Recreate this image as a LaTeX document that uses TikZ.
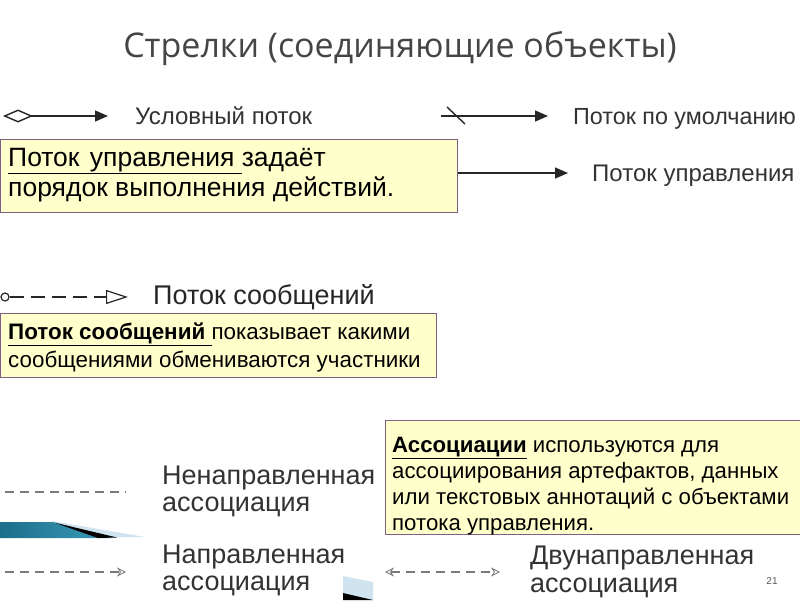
\documentclass[tikz,border=0pt]{standalone}
\usepackage{fontspec}
\setmainfont{Liberation Sans}
\newfontfamily\titlefont{Open Sans}
\usetikzlibrary{arrows.meta}
\definecolor{boxfill}{HTML}{FFFFCC}
\definecolor{boxline}{HTML}{7F6084}
\definecolor{lblgray}{HTML}{333333}
\definecolor{titlegray}{HTML}{454545}
\definecolor{tealA}{HTML}{1C6E8A}
\definecolor{tealB}{HTML}{3A9EBB}
\definecolor{paleblue}{HTML}{CFE4EE}
\definecolor{assocgray}{HTML}{7A7A7A}
\tikzset{
  notebox/.style={draw=boxline, fill=boxfill, line width=0.9pt, anchor=north west, inner sep=0pt},
  notetext/.style={anchor=base west, inner sep=0pt, align=left, text=black},
  lbl/.style={anchor=base west, inner sep=0pt, text=lblgray, font=\fontsize{24}{26}\selectfont},
  lblbig/.style={anchor=base west, inner sep=0pt, text=black!85, font=\fontsize{27}{29}\selectfont},
  lblassoc/.style={anchor=base west, inner sep=0pt, text=lblgray, font=\fontsize{27}{29}\selectfont},
  flowline/.style={line width=1.4pt, black!85},
  assoc/.style={line width=1.2pt, assocgray, dash pattern=on 9pt off 6pt},
}
\begin{document}
\begin{tikzpicture}[x=1pt,y=-1pt]
\useasboundingbox (0,0) rectangle (800,600);
\fill[white] (0,0) rectangle (800,600);

% title
\node[anchor=base, inner sep=0pt, text=titlegray, font=\titlefont\fontsize{34}{36}\selectfont] (title) at (400,57) {Стрелки (соединяющие объекты)};

% decorations
\fill[paleblue] (52,521) -- (145,537) -- (52,538) -- cycle;
\shade[left color=tealA, right color=tealB] (0,522) -- (52,522) -- (112,538) -- (0,538) -- cycle;
\fill[black] (54,522.5) -- (117,537.5) -- (98,538) -- cycle;
\fill[paleblue] (343,576) -- (373,582) -- (373,600) -- (343,600) -- cycle;
\fill[black] (343,593) -- (373,600) -- (343,600) -- cycle;

% row 1: conditional flow
\coordinate (cs) at (3,116);
\coordinate (ce) at (108,116);
\draw[flowline, {Diamond[open,length=30pt,width=13pt]}-{Triangle[length=13pt,width=11pt]}] (cs) -- (ce);
\node[lbl] (lcond) at (135,124) {Условный поток};

% default flow
\coordinate (ds) at (441,116);
\coordinate (de) at (548,116);
\coordinate (sl1) at (447,107);
\coordinate (sl2) at (465,124);
\draw[flowline, -{Triangle[length=13pt,width=11pt]}] (ds) -- (de);
\draw[flowline] (sl1) -- (sl2);
\node[lbl, font=\fontsize{23.3}{26}\selectfont] (ldef) at (573,124) {Поток по умолчанию};

% box 1
\node[notebox, minimum width=457pt, minimum height=73pt] (b1) at (0,139) {};
\node[notetext, font=\fontsize{26.5}{30}\selectfont] (t1) at (8,196)
  {\underline{Поток\hspace{3pt} управления\ }задаёт\\порядок выполнения действий.};

% control flow
\coordinate (fs) at (b1.east |- 0,173);
\coordinate (fe) at (568,173);
\draw[flowline, -{Triangle[length=13pt,width=11pt]}] (fs) -- (fe);
\node[lbl] (lctl) at (592,181) {Поток управления};

% message flow
\node[draw=black!85, line width=1.2pt, circle, minimum size=8pt, inner sep=0pt] (mc) at (5,297) {};
\coordinate (me) at (128,297);
\draw[flowline, line width=1.2pt, dash pattern=on 14pt off 7pt, -{Triangle[open,length=22pt,width=14pt,line width=1.2pt]}] (mc) -- (me);
\node[lblbig] (lmsg) at (153,304) {Поток сообщений};

% box 2
\node[notebox, minimum width=436pt, minimum height=64pt] (b2) at (0,313) {};
\node[notetext, font=\fontsize{22.4}{28}\selectfont] (t2) at (8,367)
  {\underline{\textbf{Поток сообщений}\ }показывает какими\\сообщениями обмениваются участники};

% box 3
\node[notebox, minimum width=415pt, minimum height=114pt] (b3) at (385,420) {};
\node[notetext, font=\fontsize{22.2}{26}\selectfont] (t3) at (392,530)
  {\underline{\textbf{Ассоциации}} используются для\\ассоциирования артефактов, данных\\или текстовых аннотаций с объектами\\потока управления.};

% undirected association
\coordinate (u1) at (5,492);
\coordinate (u2) at (126,492);
\draw[assoc] (u1) -- (u2);
\node[lblassoc] (lu1) at (162,484) {Ненаправленная};
\node[lblassoc] (lu2) at (162,511) {ассоциация};

% directed association
\coordinate (a1) at (5,572);
\coordinate (a2) at (126,572);
\draw[assoc, -{Stealth[length=9pt,width=9pt,inset=3pt,line width=0.8pt,open]}] (a1) -- (a2);
\node[lblassoc] (la1) at (162,563) {Направленная};
\node[lblassoc] (la2) at (162,590) {ассоциация};

% bidirectional association
\coordinate (bb1) at (385,572);
\coordinate (bb2) at (500,572);
\draw[assoc, {Stealth[length=9pt,width=9pt,inset=3pt,line width=0.8pt,open]}-{Stealth[length=9pt,width=9pt,inset=3pt,line width=0.8pt,open]}] (bb1) -- (bb2);
\node[lblassoc] (lb1) at (530,564) {Двунаправленная};
\node[lblassoc] (lb2) at (530,592) {ассоциация};

% page number
\node[anchor=base, inner sep=0pt, text=black!65, font=\fontsize{10}{12}\selectfont] (pg) at (772,584) {21};
\end{tikzpicture}
\end{document}
